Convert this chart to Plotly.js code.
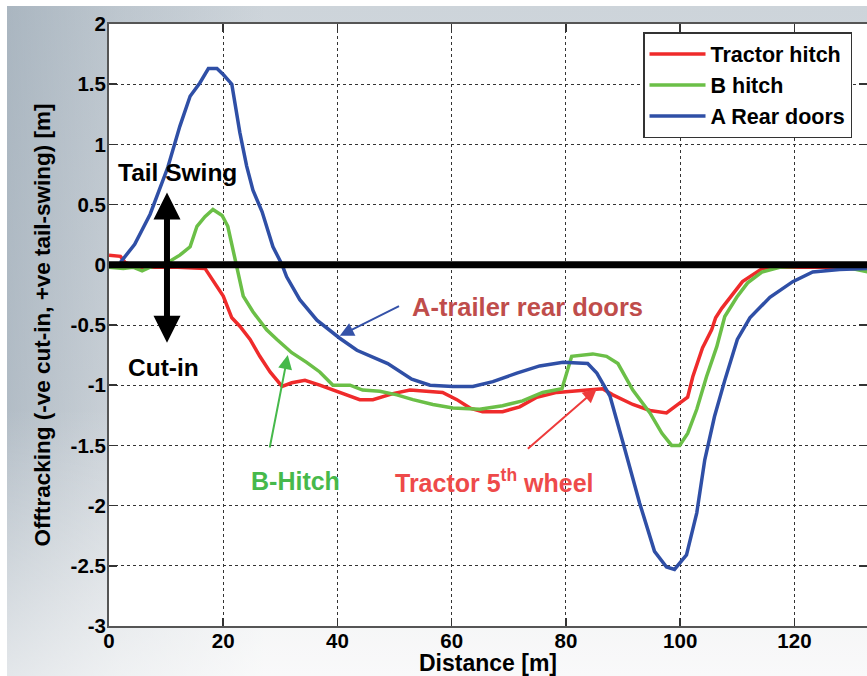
<!DOCTYPE html>
<html>
<head>
<meta charset="utf-8">
<script src="https://cdn.plot.ly/plotly-3.0.1.min.js"></script>
<style>html,body{margin:0;padding:0;background:#fff;}#chart{width:867px;height:676px;}</style>
</head>
<body>
<div id="chart"></div>
<script>
// ---- data ----
const seriesNames = ["Tractor hitch", "B hitch", "A Rear doors"];

const tractorX = [0, 2, 2.8, 5, 8.9, 12, 16.8, 18.5, 20, 21.5, 22.9, 24.7, 26.4, 28.2, 30.3, 32, 34.3, 36.9, 39.9, 42.2, 43.9, 46.2, 49.7, 52.7, 56.2, 58.4, 60.9, 63.2, 65.4, 68.9, 71.9, 74.9, 78.4, 81.2, 85.4, 86.4, 88.2, 91.7, 94.7, 97.6, 99.6, 101.3, 102.2, 103.9, 105.5, 106.2, 107.3, 110.9, 114.4, 116.2, 120, 125, 130, 133];
const tractorY = [0.08, 0.07, 0.02, -0.02, -0.02, -0.02, -0.03, -0.15, -0.26, -0.44, -0.51, -0.62, -0.76, -0.89, -1.01, -0.98, -0.96, -1.0, -1.05, -1.09, -1.12, -1.12, -1.07, -1.04, -1.05, -1.06, -1.12, -1.19, -1.22, -1.22, -1.18, -1.10, -1.06, -1.05, -1.03, -1.03, -1.08, -1.16, -1.21, -1.23, -1.16, -1.10, -0.93, -0.69, -0.54, -0.44, -0.36, -0.14, -0.03, -0.02, -0.02, -0.02, -0.03, -0.03];

const bHitchX = [0, 2.5, 4.2, 5.8, 7.2, 10.3, 12.4, 14.2, 15.4, 16.8, 18.2, 19.8, 20.8, 21.7, 22.3, 23.5, 25.2, 27.6, 29.4, 32, 34.6, 36.9, 39.2, 42.2, 44.4, 47.4, 50.4, 53.2, 56.7, 60.2, 64.9, 68.9, 72.4, 75.9, 79.3, 81, 84.7, 87.1, 89.1, 91.7, 94.7, 96.8, 98.5, 99.9, 101.3, 102.9, 104.6, 106.4, 107.8, 109.9, 111.8, 114.3, 117.4, 122, 126, 129, 133];
const bHitchY = [-0.02, -0.03, -0.02, -0.05, -0.02, 0.02, 0.08, 0.15, 0.32, 0.40, 0.46, 0.41, 0.32, 0.12, 0.0, -0.26, -0.39, -0.54, -0.62, -0.73, -0.81, -0.89, -1.0, -1.0, -1.04, -1.05, -1.08, -1.12, -1.16, -1.19, -1.2, -1.17, -1.13, -1.06, -1.03, -0.76, -0.74, -0.76, -0.82, -1.04, -1.23, -1.40, -1.5, -1.5, -1.40, -1.2, -0.93, -0.68, -0.43, -0.27, -0.15, -0.06, -0.02, -0.01, -0.01, -0.02, -0.06];

const rearX = [2, 4.5, 7.2, 10.3, 12.4, 14.2, 15.9, 17.4, 18.9, 20, 21.5, 22.9, 24.1, 25.2, 26.8, 28.7, 30.3, 31.1, 33.4, 36.4, 40.4, 43.4, 48.8, 53, 56.2, 60.2, 63.7, 67.2, 71.4, 75.4, 79.5, 83.8, 85.4, 87.7, 90, 92.9, 95.5, 97.6, 99, 101.1, 102.9, 104.3, 106, 107.8, 110, 112.2, 115.7, 119.7, 123.2, 127.9, 133];
const rearY = [0.02, 0.17, 0.42, 0.81, 1.15, 1.40, 1.51, 1.63, 1.63, 1.58, 1.50, 1.10, 0.82, 0.62, 0.44, 0.15, 0.0, -0.10, -0.29, -0.46, -0.61, -0.71, -0.82, -0.95, -1.0, -1.01, -1.01, -0.97, -0.90, -0.84, -0.81, -0.82, -0.90, -1.09, -1.48, -1.98, -2.38, -2.51, -2.53, -2.41, -2.06, -1.62, -1.26, -0.96, -0.62, -0.44, -0.27, -0.14, -0.06, -0.04, -0.03];

const xTicks = [0, 20, 40, 60, 80, 100, 120];
const yTicks = [-3, -2.5, -2, -1.5, -1, -0.5, 0, 0.5, 1, 1.5, 2];

// ---- styling ----
const FONT = "Liberation Sans, Arial, Helvetica, sans-serif";
const colors = ["#ef2b2b", "#6bbf47", "#2f4fa6"];

const bgSvg = "<svg xmlns='http://www.w3.org/2000/svg' width='860' height='670' viewBox='0 0 860 670' preserveAspectRatio='none'>" +
  "<defs><linearGradient id='v' x1='0' y1='0' x2='0' y2='1'>" +
  "<stop offset='0' stop-color='#cdd4da'/><stop offset='0.55' stop-color='#dde1e5'/><stop offset='1' stop-color='#f0f1f2'/></linearGradient>" +
  "<linearGradient id='h' x1='0' y1='0' x2='1' y2='0'>" +
  "<stop offset='0' stop-color='#8d9dab' stop-opacity='0.55'/><stop offset='0.13' stop-color='#8d9dab' stop-opacity='0.25'/><stop offset='0.3' stop-color='#8d9dab' stop-opacity='0'/></linearGradient>" +
  "<linearGradient id='f' x1='0' y1='0' x2='0' y2='1'><stop offset='0' stop-color='#fff' stop-opacity='0'/><stop offset='0.6' stop-color='#fff' stop-opacity='0'/><stop offset='1' stop-color='#fff' stop-opacity='0.6'/></linearGradient></defs>" +
  "<rect width='860' height='670' fill='url(#v)'/><rect width='860' height='670' fill='url(#h)'/><rect width='860' height='670' fill='url(#f)'/></svg>";
const bgSrc = "data:image/svg+xml;charset=utf-8," + encodeURIComponent(bgSvg);

const traces = [
  {x: tractorX, y: tractorY, name: seriesNames[0]},
  {x: bHitchX, y: bHitchY, name: seriesNames[1]},
  {x: rearX, y: rearY, name: seriesNames[2]}
].map((t, i) => Object.assign(t, {
  type: "scatter", mode: "lines",
  line: {color: colors[i], width: 3.5}
}));

const axisCommon = {
  showline: true, linecolor: "#555", linewidth: 2, mirror: "ticks",
  ticks: "inside", ticklen: 8, tickwidth: 1.5, tickcolor: "#333",
  showgrid: true, gridcolor: "#333", gridwidth: 1, griddash: "dot",
  zeroline: false,
  tickfont: {family: FONT, size: 20.5, color: "#000", weight: "bold"},
  automargin: false
};

const annText = (text, x, y, size, color) => ({
  text: text, x: x, y: y, xref: "x", yref: "y", showarrow: false,
  font: {family: FONT, size: size, color: color, weight: "bold"}
});
const annArrow = (x, y, ax, ay, color, width, head, size, side) => ({
  text: " ", x: x, y: y, ax: ax, ay: ay, xref: "x", yref: "y", axref: "x", ayref: "y",
  showarrow: true, arrowcolor: color, arrowwidth: width, arrowhead: head, arrowsize: size,
  arrowside: side || "end", standoff: 0, startstandoff: 0
});

const layout = {
  width: 867, height: 676,
  margin: {l: 109, r: 0, t: 24, b: 50},
  paper_bgcolor: "#ffffff", plot_bgcolor: "#ffffff",
  showlegend: true,
  legend: {
    x: 0.7045, y: 0.9867, xanchor: "left", yanchor: "top",
    bgcolor: "#ffffff", bordercolor: "#333", borderwidth: 1.5,
    font: {family: FONT, size: 21.5, color: "#000", weight: "bold"},
    itemwidth: 56, tracegroupgap: 0
  },
  xaxis: Object.assign({}, axisCommon, {
    range: [0, 132.7], tickvals: xTicks, ticktext: xTicks.map(String),
    ticklabelstandoff: -5,
    title: {text: "Distance [m]", standoff: 8, font: {family: FONT, size: 23, color: "#000", weight: "bold"}}
  }),
  yaxis: Object.assign({}, axisCommon, {
    range: [-3, 2], tickvals: yTicks, ticktext: yTicks.map(String),
    ticklabelstandoff: -3,
    title: {text: "Offtracking (-ve cut-in, +ve tail-swing) [m]", standoff: 14, font: {family: FONT, size: 22.5, color: "#000", weight: "bold"}}
  }),
  images: [{
    source: bgSrc, xref: "paper", yref: "paper",
    x: -0.1346, y: 1.0299, sizex: 1.1346, sizey: 1.113,
    xanchor: "left", yanchor: "top", sizing: "stretch", layer: "below"
  }],
  shapes: [
    {type: "rect", xref: "paper", yref: "paper", x0: 0, x1: 1, y0: 0, y1: 1,
     fillcolor: "#ffffff", line: {width: 0}, layer: "below"},
    {type: "line", xref: "paper", yref: "y", x0: 0, x1: 1, y0: 0, y1: 0,
     line: {color: "#000", width: 7}, layer: "above"}
  ],
  annotations: [
    annArrow(10.15, 0.60, 10.15, -0.73, "#000", 6, 2, 0.9, "end+start"),
    annText("Tail Swing", 12.0, 0.764, 24.5, "#000"),
    annText("Cut-in", 9.6, -0.855, 24.5, "#000"),
    annArrow(40.4, -0.59, 51.3, -0.33, "#3552a8", 2, 2, 1.4),
    annText("A-trailer rear doors", 73.3, -0.35, 25.5, "#bf4d4b"),
    annArrow(31.3, -0.75, 27.8, -1.60, "#46b94b", 2, 2, 1.4),
    annText("B-Hitch", 32.7, -1.794, 25, "#46b94b"),
    annArrow(85.4, -1.03, 72.8, -1.55, "#ee3b3b", 2, 2, 1.4),
    annText("Tractor 5<sup>th</sup> wheel", 67.5, -1.794, 25, "#ee4a4a")
  ]
};

Plotly.newPlot("chart", traces, layout, {staticPlot: true, displayModeBar: false});
</script>
</body>
</html>
